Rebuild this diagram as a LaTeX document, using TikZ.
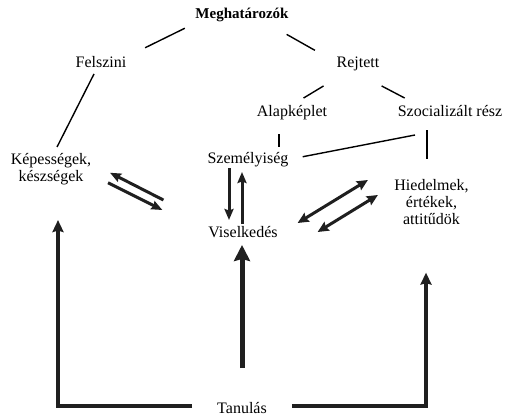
\documentclass[tikz,border=0pt]{standalone}
\usepackage{fontspec}
\setmainfont{Liberation Serif}
\usetikzlibrary{arrows.meta}
\begin{document}
\begin{tikzpicture}[x=1pt,y=-1pt,
    lbl/.style={inner sep=0pt, outer sep=0pt, anchor=base, text height=11pt, text depth=4pt, font=\fontsize{16}{17}\selectfont},
    mlbl/.style={inner sep=0pt, outer sep=0pt, align=center, font=\fontsize{16}{17}\selectfont},
    conn/.style={line width=1.4pt},
    arr/.style={line width=3pt, black!88, -{Stealth[length=11pt,width=9pt,inset=1.5pt]}},
    dbarr/.style={line width=3pt, black!88, {Stealth[length=11pt,width=10pt,inset=1.5pt]}-{Stealth[length=11pt,width=10pt,inset=1.5pt]}},
    larr/.style={line width=3.5pt, black!88, -{Stealth[length=12pt,width=11pt,inset=1.5pt]}},
    bigarr/.style={line width=5pt, black!88, -{Stealth[length=16pt,width=16pt,inset=2pt]}}]
    \useasboundingbox (0,0) rectangle (505,417);
    % labels
    \node[lbl, font=\fontsize{15}{17}\selectfont\bfseries] (meg) at (242,19) {Meghatározók};
    \node[lbl] (fel) at (101,68) {Felszini};
    \node[lbl] (rej) at (358,68) {Rejtett};
    \node[lbl] (alap) at (292,116) {Alapképlet};
    \node[lbl] (szoc) at (450,116) {Szocializált rész};
    \node[mlbl] (kep) at (51,168.75) {Képességek,\\készségek};
    \node[lbl] (szem) at (248,163) {Személyiség};
    \node[lbl] (vis) at (243,237) {Viselkedés};
    \node[mlbl] (hied) at (431.5,202) {Hiedelmek,\\értékek,\\attitűdök};
    \node[lbl] (tan) at (242,413) {Tanulás};
    % tree lines
    \draw[conn, shorten <=11.9pt, shorten >=20.9pt] (meg.south west) -- (fel.north east);
    \draw[conn, shorten <=23.1pt, shorten >=13.5pt] ([xshift=-22pt]meg.south east) -- ([xshift=-10pt]rej.north west);
    \draw[conn, shorten <=2.2pt, shorten >=6.7pt] ([xshift=-6pt]fel.south) -- ([xshift=3pt]kep.north);
    \draw[conn, shorten <=27pt, shorten >=13.5pt] ([xshift=10pt]rej.south west) -- (alap.north);
    \draw[conn, shorten <=30pt, shorten >=15pt] ([xshift=-3pt]rej.south) -- ([xshift=-32pt]szoc.north);
    \draw[conn, shorten <=14pt, shorten >=5pt] ([xshift=-13pt]alap.south) -- ([xshift=31pt]szem.north);
    \draw[conn, shorten <=10pt, shorten >=20pt] ([xshift=-23pt]szoc.south) -- ([xshift=-4.5pt]hied.north);
    \draw[conn, shorten <=14.5pt] (szem.east) -- ([shift={(-35,15)}]szoc.south);
    % arrows
    \draw[arr] ([shift={(-45,-33.5)}]vis.west) -- ([shift={(18.8,4)}]kep.east);
    \draw[arr] ([shift={(16.8,14)}]kep.east) -- ([shift={(-46,-23.5)}]vis.west);
    \draw[arr] ([shift={(-19,1)}]szem.south) -- ([shift={(-14,-6)}]vis.north);
    \draw[arr] ([shift={(-1,-2)}]vis.north) -- ([shift={(-6,5)}]szem.south);
    \draw[dbarr] ([shift={(20,-10.5)}]vis.east) -- ([shift={(-26.5,-22)}]hied.west);
    \draw[dbarr] ([shift={(40,-1.5)}]vis.east) -- ([shift={(-16.5,-7)}]hied.west);
    \draw[bigarr] ([shift={(0,-34)}]tan.north) -- ([shift={(-1,4)}]vis.south);
    \draw[larr] ([shift={(-25,-3.5)}]tan.west) -| ([shift={(7,35.5)}]kep.south);
    \draw[larr] ([shift={(25,-3.5)}]tan.east) -| ([shift={(-5.5,48)}]hied.south);
\end{tikzpicture}
\end{document}
